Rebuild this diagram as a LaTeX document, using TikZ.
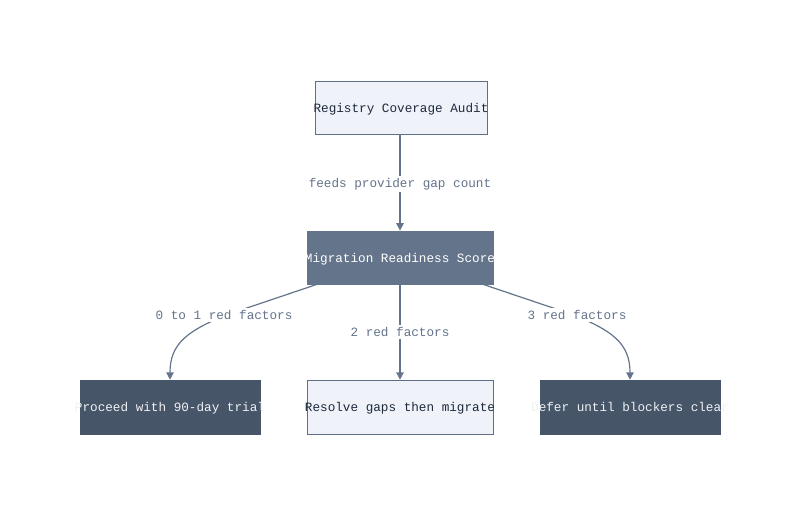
\documentclass[tikz,border=0pt]{standalone}
\usepackage{fontspec}
\setmonofont{Liberation Mono}
\usetikzlibrary{arrows.meta}
\definecolor{paleblue}{HTML}{EFF3F9}
\definecolor{slateline}{HTML}{5F6E87}
\definecolor{slatemid}{HTML}{64748B}
\definecolor{slatedark}{HTML}{475569}
\definecolor{inkdark}{HTML}{1E293B}
\newcommand{\boxtext}[1]{\raisebox{-3.4pt}[0pt][0pt]{\makebox[0pt]{#1}}}
\tikzset{
  lightbox/.style={draw=slateline, fill=paleblue, text=inkdark, minimum height=40pt, inner sep=0pt, font=\fontsize{9.5}{11}\ttfamily},
  midbox/.style={draw=slatemid, fill=slatemid, text=white, minimum height=40pt, inner sep=0pt, font=\fontsize{9.5}{11}\ttfamily},
  darkbox/.style={draw=slatedark, fill=slatedark, text=white!90!slatemid, minimum width=135pt, minimum height=40.5pt, inner sep=0pt, font=\fontsize{9.5}{11}\ttfamily},
  flow/.style={draw=slatemid, line width=0.9pt, -{Triangle[length=5.5pt,width=5.5pt]}},
  edgelabel/.style={fill=white, text=slatemid, inner sep=1.5pt, font=\fontsize{9.5}{11}\ttfamily}
}
\begin{document}
\begin{tikzpicture}[x=0.75pt, y=-0.75pt]
\useasboundingbox[fill=white] (0,0) rectangle (800,515);
\node[lightbox, minimum width=129pt] (audit) at (401,107.5) {\boxtext{Registry Coverage Audit}};
\node[midbox, minimum width=139.5pt] (score) at (400,257.5) {\boxtext{Migration Readiness Score}};
\node[darkbox] (proceed) at (170,407) {\boxtext{Proceed with 90-day trial}};
\node[lightbox, minimum width=139.5pt, minimum height=40.5pt] (resolve) at (400,407) {\boxtext{Resolve gaps then migrate}};
\node[darkbox] (defer) at (630,407) {\boxtext{Defer until blockers clear}};
% connectors
\draw[flow] (audit.south -| score.north) -- node[edgelabel, yshift=-1pt] {feeds provider gap count} (score.north);
\draw[flow] ([xshift=7.5pt]score.south west) -- (235,312) .. controls (185,330) and (170,345) .. (proceed.north);
\node[edgelabel] (lowlabel) at (224,315) {0 to 1 red factors};
\draw[flow] (score.south) -- node[edgelabel, pos=0.5] {2 red factors} (resolve.north);
\draw[flow] ([xshift=-7.5pt]score.south east) -- (565,312) .. controls (615,330) and (630,345) .. (defer.north);
\node[edgelabel] (highlabel) at (577,315) {3 red factors};
\end{tikzpicture}
\end{document}
